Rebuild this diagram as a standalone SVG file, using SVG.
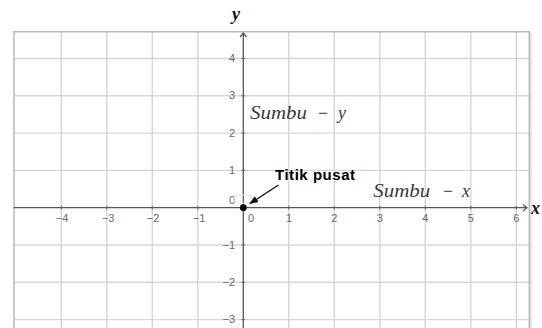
<svg xmlns="http://www.w3.org/2000/svg" width="542" height="328" viewBox="0 0 542 328">
<style>
.grid{stroke:#d6d6d6;stroke-width:1.4;fill:none}
.frame{stroke:#b8b8b8;stroke-width:1.5;fill:none}
.axis{stroke:#555;stroke-width:1.3;fill:none}
.tick{stroke:#666;stroke-width:1;fill:none}
.tl{font-family:"Liberation Sans",Arial,sans-serif;font-size:11px;fill:#666}
.math{font-family:"Liberation Serif","Times New Roman",serif;font-style:italic;font-size:18px;fill:#3a3a3a}
.axl{font-family:"Liberation Serif","Times New Roman",serif;font-style:italic;font-weight:bold;font-size:18px;fill:#111}
</style>
<defs>
<marker id="ah" markerWidth="10" markerHeight="10" refX="8" refY="5" orient="auto" markerUnits="userSpaceOnUse">
<path d="M0,1.5 L9,5 L0,8.5 Z" fill="#111"/>
</marker>
</defs>
<rect width="542" height="328" fill="#fff"/>
<g id="grid" class="grid">
<path d="M61.3,31.7V328M106.8,31.7V328M152.3,31.7V328M197.8,31.7V328M288.8,31.7V328M334.3,31.7V328M379.8,31.7V328M425.3,31.7V328M470.8,31.7V328M516.3,31.7V328"/>
<path d="M14,58.5H529M14,95.8H529M14,133.1H529M14,170.4H529M14,245H529M14,282.3H529M14,319.6H529"/>
</g>
<g id="frame" class="frame">
<path d="M14,328V31.7H529.3V328"/>
<path d="M531,33V328" stroke="#e6e6e6" stroke-width="2"/>
</g>
<g id="axes">
<path class="axis" d="M14,207.7H527"/>
<path class="axis" d="M523,204.5L527,207.7L523,210.9"/>
<path class="axis" d="M243.3,328V33"/>
<path class="axis" d="M240.1,37L243.3,33L246.5,37"/>
<path class="tick" d="M61.3,205.7v4M106.8,205.7v4M152.3,205.7v4M197.8,205.7v4M288.8,205.7v4M334.3,205.7v4M379.8,205.7v4M425.3,205.7v4M470.8,205.7v4M516.3,205.7v4"/>
<path class="tick" d="M241.3,58.5h4M241.3,95.8h4M241.3,133.1h4M241.3,170.4h4M241.3,245h4M241.3,282.3h4M241.3,319.6h4"/>
<text class="axl" x="531" y="214">x</text>
<text class="axl" x="232" y="20">y</text>
</g>
<g id="tick-labels" class="tl">
<g text-anchor="middle">
<text x="62" y="222">−4</text>
<text x="108" y="222">−3</text>
<text x="153" y="222">−2</text>
<text x="199" y="222">−1</text>
<text x="251" y="222">0</text>
<text x="289" y="222">1</text>
<text x="334.3" y="222">2</text>
<text x="379.8" y="222">3</text>
<text x="425.3" y="222">4</text>
<text x="470.8" y="222">5</text>
<text x="516.3" y="222">6</text>
</g>
<g text-anchor="end">
<text x="235" y="62">4</text>
<text x="235" y="99.3">3</text>
<text x="235" y="136.6">2</text>
<text x="235" y="173.9">1</text>
<text x="235" y="204">0</text>
<text x="235" y="248.5">−1</text>
<text x="235" y="285.8">−2</text>
<text x="235" y="323.1">−3</text>
</g>
<rect x="234" y="195" width="18" height="8" rx="3" fill="none" stroke="#e2e2e2" stroke-width="1"/>
</g>
<g id="sumbu-y" class="math">
<text x="250" y="119" textLength="57" lengthAdjust="spacingAndGlyphs">Sumbu</text>
<text x="318" y="119" textLength="10" lengthAdjust="spacingAndGlyphs" font-style="normal">−</text>
<text x="338" y="119">y</text>
</g>
<g id="sumbu-x" class="math">
<text x="373.3" y="197" textLength="57" lengthAdjust="spacingAndGlyphs">Sumbu</text>
<text x="443" y="197" textLength="10" lengthAdjust="spacingAndGlyphs" font-style="normal">−</text>
<text x="462" y="197">x</text>
</g>
<g id="origin"><circle cx="243.3" cy="207.7" r="3.4" fill="#000"/></g>
<g id="titik-pusat"><text x="275" y="179.5" font-family="Liberation Sans,Arial,sans-serif" font-weight="bold" font-size="15" fill="#000" textLength="80">Titik pusat</text></g>
<g id="connectors">
<path d="M278.5,185 L250,203.5" stroke="#111" stroke-width="1.3" fill="none" marker-end="url(#ah)"/>
</g>
</svg>
